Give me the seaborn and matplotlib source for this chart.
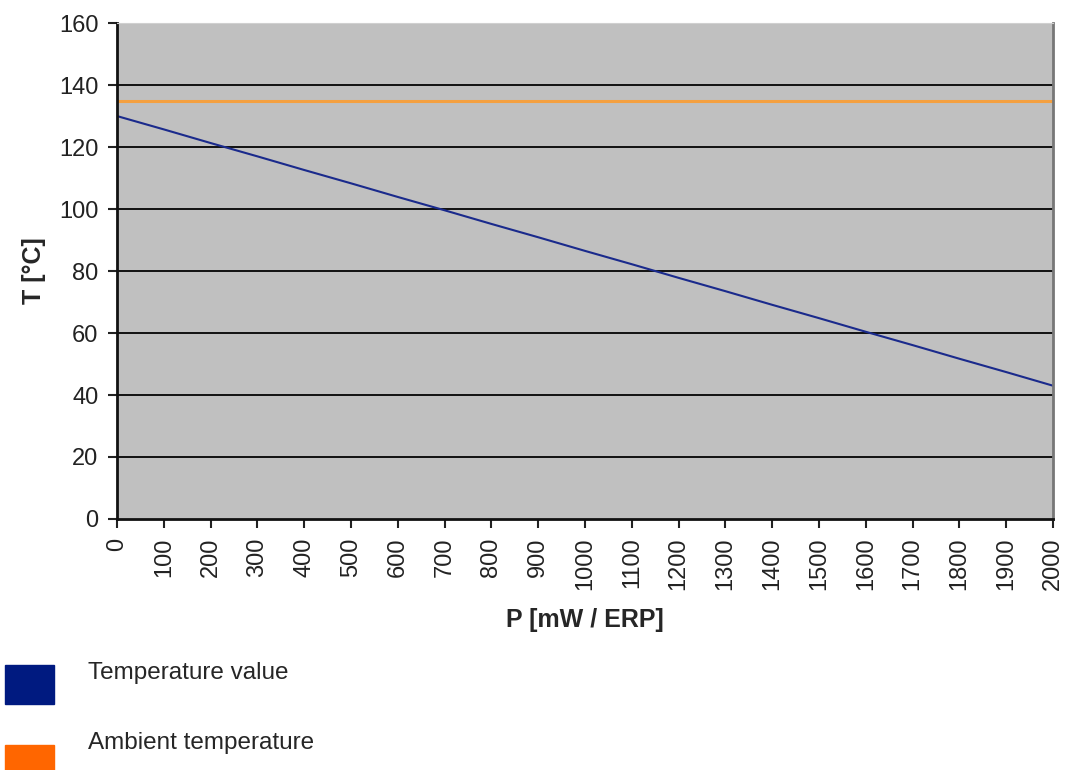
import numpy as np
import pandas as pd
import matplotlib
matplotlib.use("Agg")
import matplotlib.pyplot as plt
from matplotlib.patches import Rectangle
import seaborn as sns

# data
power = [0, 100, 200, 300, 400, 500, 600, 700, 800, 900, 1000,
         1100, 1200, 1300, 1400, 1500, 1600, 1700, 1800, 1900, 2000]
temperature = [130, 125.7, 121.3, 117, 112.6, 108.3, 103.9, 99.6, 95.2, 90.9, 86.5,
               82.2, 77.8, 73.5, 69.1, 64.8, 60.4, 56.1, 51.7, 47.4, 43]
ambient = [135] * len(power)
y_ticks = [0, 20, 40, 60, 80, 100, 120, 140, 160]

df = pd.DataFrame({"P": power, "T": temperature, "Ambient": ambient})

sns.set_style("white", {"axes.facecolor": "#C0C0C0"})
plt.rcParams["font.family"] = ["Liberation Sans", "DejaVu Sans"]

fig = plt.figure(figsize=(10.66, 7.7), dpi=100)
ax = fig.add_axes([0.1098, 0.326, 0.878, 0.644])

sns.lineplot(data=df, x="P", y="Ambient", ax=ax, color="#F4A040", linewidth=2.2)
sns.lineplot(data=df, x="P", y="T", ax=ax, color="#1A2A8C", linewidth=1.5)

ax.set_xlim(0, 2000)
ax.set_ylim(0, 160)
ax.set_xticks(power)
ax.set_xticklabels([str(p) for p in power], rotation=90, fontsize=17)
ax.set_yticks(y_ticks)
ax.set_yticklabels([str(t) for t in y_ticks], fontsize=17)
ax.tick_params(axis="both", direction="out", length=6.5, width=1.5, color="#222222",
               colors="#222222", pad=7)
ax.tick_params(axis="y", left=True)
ax.tick_params(axis="x", bottom=True)

for t in y_ticks[1:-1]:
    ax.axhline(t, color="#111111", linewidth=1.4, zorder=1)

for side in ["left", "bottom"]:
    ax.spines[side].set_color("#111111")
    ax.spines[side].set_linewidth(2)
ax.spines["top"].set_color("#D0D0D0")
ax.spines["right"].set_color("#777777")
ax.spines["right"].set_linewidth(2)

ax.set_xlabel("P [mW / ERP]", fontsize=18, fontweight="bold", labelpad=13)
ax.set_ylabel("T [°C]", fontsize=18, fontweight="bold", labelpad=9)

# legend below the chart
fig.add_artist(Rectangle((5 / 1066, 1 - 704 / 770), 49 / 1066, 39 / 770,
                         transform=fig.transFigure, color="#001A80"))
fig.add_artist(Rectangle((5 / 1066, 0.0), 49 / 1066, 25 / 770,
                         transform=fig.transFigure, color="#FF6600"))
fig.text(88 / 1066, 1 - 673 / 770, "Temperature value", fontsize=17.5, va="center")
fig.text(88 / 1066, 1 - 743 / 770, "Ambient temperature", fontsize=17.5, va="center")

fig.savefig("out.png", dpi=100)
